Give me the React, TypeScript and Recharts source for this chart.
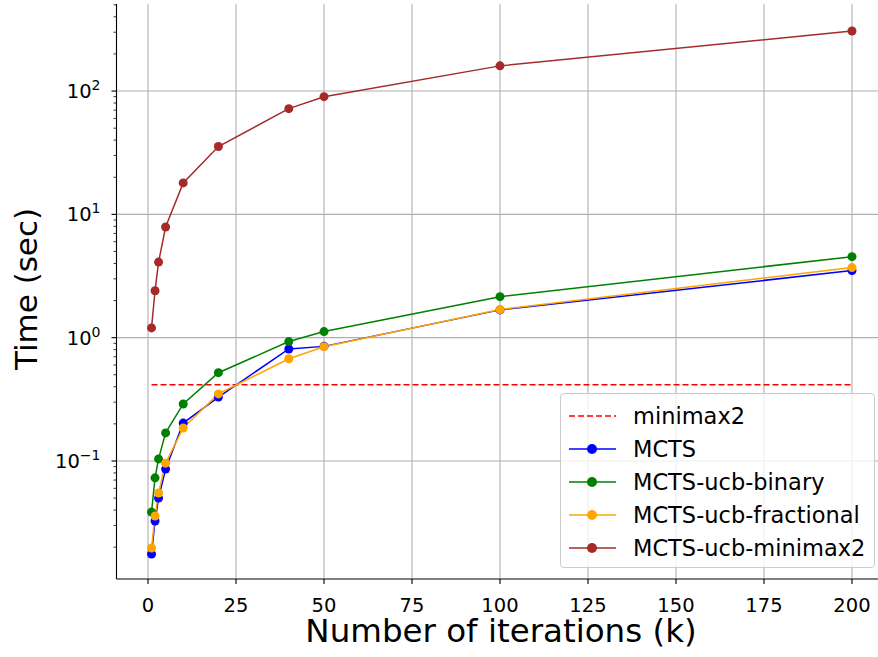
import React from 'react';
import { LineChart, Line, XAxis, YAxis, CartesianGrid } from 'recharts';

// iterations (k) on x, time in seconds on y (log)
const iterations = [1, 2, 3, 5, 10, 20, 40, 50, 100, 200];
const mcts = [0.0176, 0.0326, 0.05, 0.086, 0.203, 0.33, 0.81, 0.85, 1.68, 3.5];
const ucbBinary = [0.0385, 0.073, 0.104, 0.169, 0.29, 0.52, 0.93, 1.12, 2.15, 4.54];
const ucbFractional = [0.0197, 0.0358, 0.055, 0.096, 0.185, 0.35, 0.675, 0.845, 1.69, 3.7];
const ucbMinimax2 = [1.2, 2.4, 4.1, 7.9, 18, 35.5, 72, 90, 160, 307];
const minimax2Time = 0.416;

const xTicks = [0, 25, 50, 75, 100, 125, 150, 175, 200];
const yMajor = [0.1, 1, 10, 100];
const yMinor = [0.01, 0.1, 1, 10, 100].flatMap((d) => [2, 3, 4, 5, 6, 7, 8, 9].map((m) => +(d * m).toPrecision(3)));
const yTicks = [...yMajor, ...yMinor].sort((a, b) => a - b);

const series = [
  { key: 'minimax2', name: 'minimax2', color: '#ff0000', dashed: true },
  { key: 'mcts', name: 'MCTS', color: '#0000ff' },
  { key: 'ucbBinary', name: 'MCTS-ucb-binary', color: '#008000' },
  { key: 'ucbFractional', name: 'MCTS-ucb-fractional', color: '#ffa500' },
  { key: 'ucbMinimax2', name: 'MCTS-ucb-minimax2', color: '#a52a2a' },
];

const data = iterations.map((k, i) => ({
  k,
  mcts: mcts[i],
  ucbBinary: ucbBinary[i],
  ucbFractional: ucbFractional[i],
  ucbMinimax2: ucbMinimax2[i],
  minimax2: minimax2Time,
}));

const FONT = '"DejaVu Sans", sans-serif';

const XTick = ({ x, y, payload }: any) => (
  <g>
    <line x1={x} x2={x} y1={y} y2={y + 5} stroke="#000" strokeWidth={1.1} />
    <text x={x} y={y + 33} textAnchor="middle" fontSize={19.5} fontFamily={FONT} fill="#000">
      {payload.value}
    </text>
  </g>
);

const YTick = ({ x, y, payload }: any) => {
  const v = payload.value;
  const major = yMajor.includes(v);
  if (!major) return <line x1={x} x2={x - 3} y1={y} y2={y} stroke="#000" strokeWidth={0.8} />;
  const exp = Math.round(Math.log10(v));
  return (
    <g>
      <line x1={x} x2={x - 5} y1={y} y2={y} stroke="#000" strokeWidth={1.1} />
      <text x={x - 16} y={y + 7} textAnchor="end" fontSize={19.5} fontFamily={FONT} fill="#000">
        10
        <tspan dy={-8} fontSize={14}>{exp < 0 ? '\u2212' + Math.abs(exp) : exp}</tspan>
      </text>
    </g>
  );
};

const LegendBox = () => (
  <div
    style={{
      position: 'absolute', left: 560, top: 393, width: 315, height: 175,
      border: '1px solid #cccccc', borderRadius: 4, background: 'rgba(255,255,255,0.8)',
      fontFamily: FONT, fontSize: 22.5, boxSizing: 'border-box',
    }}
  >
    {series.map((s, i) => (
      <div key={s.key} style={{ position: 'absolute', left: 7, top: 6 + i * 33, height: 32, display: 'flex', alignItems: 'center' }}>
        <svg width={50} height={20} style={{ marginRight: 15 }}>
          <line x1={1} x2={48} y1={10} y2={10} stroke={s.color} strokeWidth={1.5} strokeDasharray={s.dashed ? '6 3' : undefined} />
          {!s.dashed && <circle cx={24} cy={10} r={5} fill={s.color} />}
        </svg>
        <span>{s.name}</span>
      </div>
    ))}
  </div>
);

export default function App() {
  return (
    <div style={{ position: 'absolute', left: 0, top: 0, width: 878, height: 657, overflow: 'hidden', background: '#fff' }}>
      <LineChart width={888} height={657} data={data} margin={{ top: 4, right: 1, left: 0, bottom: 0 }}>
        <CartesianGrid stroke="#b0b0b0" strokeWidth={1.1} horizontalValues={yMajor} verticalValues={xTicks} />
        <XAxis
          type="number" dataKey="k" domain={[-8.95, 209.95]} ticks={xTicks} allowDataOverflow
          height={78} tickSize={0} tickMargin={0} tick={<XTick />} axisLine={{ stroke: '#000', strokeWidth: 1.1 }}
          interval={0}
        />
        <XAxis xAxisId="top" orientation="top" type="number" dataKey="k" domain={[-8.95, 209.95]} height={0}
          tick={false} tickLine={false} axisLine={{ stroke: '#000', strokeWidth: 1.1 }} />
        <YAxis
          scale="log" domain={[0.01104, 508]} ticks={yTicks} allowDataOverflow width={116.5}
          tickSize={0} tickMargin={0} tick={<YTick />} axisLine={{ stroke: '#000', strokeWidth: 1.1 }}
          interval={0}
        />
        {series.map((s) => (
          <Line
            key={s.key} dataKey={s.key} name={s.name} stroke={s.color} strokeWidth={1.5}
            strokeDasharray={s.dashed ? '6 3' : undefined}
            dot={s.dashed ? false : { r: 4.5, fill: s.color, stroke: s.color, strokeWidth: 0 }}
            activeDot={false} isAnimationActive={false}
          />
        ))}
      </LineChart>
      <LegendBox />
      <div style={{ position: 'absolute', left: 501, top: 618, transform: 'translateX(-50%)', fontFamily: FONT, fontSize: 32.5, whiteSpace: 'nowrap', lineHeight: 0.8 }}>
        Number of iterations (k)
      </div>
      <div style={{ position: 'absolute', left: 26, top: 289, transform: 'translate(-50%,-50%) rotate(-90deg)', fontFamily: FONT, fontSize: 31, whiteSpace: 'nowrap', lineHeight: 1 }}>
        Time (sec)
      </div>
    </div>
  );
}
